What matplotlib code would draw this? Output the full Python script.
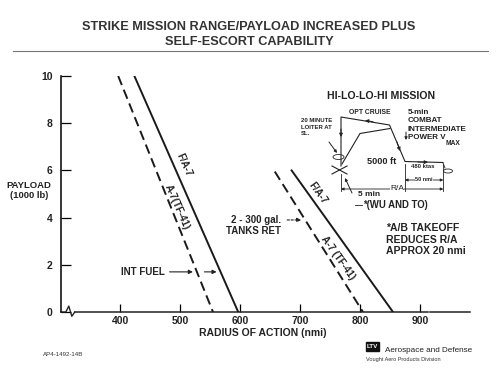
import numpy as np
import matplotlib
matplotlib.use("Agg")
import matplotlib.pyplot as plt
from matplotlib.patches import Ellipse, Rectangle

plt.rcParams['font.family'] = ['Liberation Sans', 'DejaVu Sans']

# ---------------- data ----------------
payload_top_int = [10.0, 10.0]          # payload (1000 lb) at upper end, internal fuel lines
radius_top_int = [424, 397]             # F/A-7, A-7(TF-41)
radius_zero_int = [597, 555]            # radius at zero payload

payload_top_tank = [6.0, 5.95]          # 2-300 gal tanks retained
radius_top_tank = [686, 658]
radius_zero_tank = [855, 805]

series_names = ['F/A-7', 'A-7(TF-41)']
series_names_tank = ['F/A-7', 'A-7 (TF-41)']

x_ticks = [400, 500, 600, 700, 800, 900]
y_ticks = [0, 2, 4, 6, 8, 10]

W, H = 500, 374
fig = plt.figure(figsize=(W / 100, H / 100), dpi=100)
fig.patch.set_facecolor('white')

def P(x, y):
    return (x / W, 1 - y / H)

# axes in pixel placement
left_px, right_px, bottom_px, top_px = 61, 470, 312, 76
ax = fig.add_axes([left_px / W, 1 - bottom_px / H, (right_px - left_px) / W, (bottom_px - top_px) / H])
xmin = 400 - (120 - left_px) / 60 * 100
xmax = 400 + (right_px - 120) / 60 * 100
ax.set_xlim(xmin, xmax)
ax.set_ylim(0, 10)
ax.patch.set_alpha(0)
for s in ['top', 'right', 'bottom']:
    ax.spines[s].set_visible(False)
ax.spines['left'].set_linewidth(1.1)
ax.set_xticks(x_ticks)
ax.set_yticks(y_ticks)
ax.set_xticklabels([str(v) for v in x_ticks], fontsize=7.5, fontweight='bold', color='#222')
ax.set_yticklabels([str(v) for v in y_ticks], fontsize=7.5, fontweight='bold', color='#222')
ax.tick_params(axis='y', direction='in', length=7, width=0.9, pad=6)
ax.tick_params(axis='x', direction='in', length=6, width=0.9, pad=3)

# bottom axis line with break zig-zag
bk = xmin
zz_x = [bk, bk + 8, bk + 13, bk + 18, bk + 23]
zz_y = [0, 0, 0.25, -0.18, 0]
ax.plot(zz_x, zz_y, color='#222', lw=1.0, clip_on=False)
ax.plot([bk + 23, 913], [0, 0], color='#222', lw=1.1, clip_on=False)
ax.plot([917, xmax], [0, 0], color='#222', lw=1.1, clip_on=False)

for i in range(2):
    ls = dict(color='#1a1a1a', lw=1.4)
    l1, = ax.plot([radius_top_int[i], radius_zero_int[i]], [payload_top_int[i], 0], **ls)
    l2, = ax.plot([radius_top_tank[i], radius_zero_tank[i]], [payload_top_tank[i], 0], **ls)
    if i == 1:
        l1.set_dashes((5, 2.6))
        l2.set_dashes((5, 2.6))

fig.canvas.draw()

def angle_of(x0, y0, x1, y1):
    p0 = ax.transData.transform((x0, y0))
    p1 = ax.transData.transform((x1, y1))
    return np.degrees(np.arctan2(p1[1] - p0[1], p1[0] - p0[0]))

def along(i, frac, top, rtop, rzero):
    x = rtop[i] + (rzero[i] - rtop[i]) * frac
    y = top[i] * (1 - frac)
    return x, y

lab = dict(ha='center', va='center', fontsize=7, fontweight='bold', color='#222', rotation_mode='anchor')

# labels on internal fuel lines
a_int = angle_of(radius_top_int[0], payload_top_int[0], radius_zero_int[0], 0)
x, y = along(0, 0.377, payload_top_int, radius_top_int, radius_zero_int)
ax.text(x + 17, y, series_names[0], rotation=a_int, **lab)
x, y = along(1, 0.555, payload_top_int, radius_top_int, radius_zero_int)
ax.text(x + 11, y, series_names[1], rotation=a_int, **lab)

a_tank = angle_of(radius_top_tank[0], payload_top_tank[0], radius_zero_tank[0], 0)
x, y = along(0, 0.16, payload_top_tank, radius_top_tank, radius_zero_tank)
ax.text(x + 17, y, series_names_tank[0], rotation=a_tank, **lab)
x, y = along(1, 0.617, payload_top_tank, radius_top_tank, radius_zero_tank)
ax.text(x + 15, y, series_names_tank[1], rotation=a_tank, **lab)

# INT FUEL annotation
yi = 1.7
def x_at(i, yv, top, rtop, rzero):
    return rzero[i] + (rtop[i] - rzero[i]) * yv / top[i]
xd = x_at(1, yi, payload_top_int, radius_top_int, radius_zero_int)
xs = x_at(0, yi, payload_top_int, radius_top_int, radius_zero_int)
ax.text(438, yi, 'INT FUEL', ha='center', va='center', fontsize=7, fontweight='bold', color='#222')
ax.annotate('', xy=(xd - 2, yi), xytext=(478, yi),
            arrowprops=dict(arrowstyle='-|>', color='#222', lw=0.8, mutation_scale=6))
ax.annotate('', xy=(xs - 2, yi), xytext=(xd + 8, yi),
            arrowprops=dict(arrowstyle='-|>', color='#222', lw=0.8, mutation_scale=6))

# tanks annotation
yt = 3.9
xt = x_at(1, yt, payload_top_tank, radius_top_tank, radius_zero_tank)
ax.text(669, yt, '2 - 300 gal.', ha='right', va='center', fontsize=7, fontweight='bold', color='#222')
ax.text(669, yt - 0.45, 'TANKS RET', ha='right', va='center', fontsize=7, fontweight='bold', color='#222')
ax.annotate('', xy=(xt - 2, yt), xytext=(674, yt),
            arrowprops=dict(arrowstyle='-|>', color='#222', lw=0.8, ls=(0, (2, 1.5)), mutation_scale=6))

# axis labels
fig.text(*P(263, 333), 'RADIUS OF ACTION (nmi)', ha='center', va='center', fontsize=7.5,
         fontweight='bold', color='#222')
fig.text(*P(29, 185), 'PAYLOAD', ha='center', va='center', fontsize=6.8, fontweight='bold', color='#222')
fig.text(*P(29, 196), '(1000 lb)', ha='center', va='center', fontsize=6.8, fontweight='bold', color='#222')

# title
fig.text(*P(249, 27), 'STRIKE MISSION RANGE/PAYLOAD INCREASED PLUS', ha='center', va='center',
         fontsize=9.2, fontweight='bold', color='#333')
fig.text(*P(249, 42), 'SELF-ESCORT CAPABILITY', ha='center', va='center',
         fontsize=9.2, fontweight='bold', color='#333')
fig.add_artist(plt.Line2D([13 / W, 488 / W], [1 - 50.5 / H, 1 - 50.5 / H], color='#777', lw=0.8))

# ---------------- inset mission diagram (pixel coords) ----------------
def pline(xs_, ys_, **kw):
    fx = [v / W for v in xs_]
    fy = [1 - v / H for v in ys_]
    fig.add_artist(plt.Line2D(fx, fy, color='#222', lw=kw.pop('lw', 0.8), **kw))

def parrow(x0, y0, x1, y1, style='-|>', ms=5, lw=0.7):
    fig.add_artist(matplotlib.patches.FancyArrowPatch(P(x0, y0), P(x1, y1), transform=fig.transFigure,
                   arrowstyle=style, mutation_scale=ms, color='#222', lw=lw, shrinkA=0, shrinkB=0))

route_out_x = [341, 341, 389.5, 405, 443]
route_out_y = [166, 117, 125, 161.5, 162.5]
pline(route_out_x, route_out_y)
route_in_x = [342, 360, 390]
route_in_y = [164, 133.5, 128.5]
pline(route_in_x, route_in_y)
parrow(341, 129, 341, 137)
parrow(373, 121.7, 365, 120.5)
parrow(397, 142, 400, 151)
parrow(418, 162, 428, 162.2)
parrow(406, 132, 406, 140, ms=4)
# takeoff X
pline([332, 347], [166, 174])
pline([332, 347], [174, 166])
# loiter ellipse and leader
fig.add_artist(Ellipse(P(338.5, 157), 11 / W, 5 / H, transform=fig.transFigure, fill=False, color='#222', lw=0.6))
parrow(329, 142, 337, 153, ms=4)
# combat ellipse
fig.add_artist(Ellipse(P(448, 171), 9 / W, 4 / H, transform=fig.transFigure, fill=False, color='#222', lw=0.6))
pline([443, 445], [163, 168], lw=0.6)
# dimension lines
pline([341, 341], [174, 191], lw=0.6)
pline([405, 405], [164, 191], lw=0.6)
pline([443.3, 443.3], [164, 191], lw=0.6)
parrow(393, 189, 341, 189, style='-|>', ms=4, lw=0.6)
parrow(393, 189, 443.3, 189, style='-|>', ms=4, lw=0.6)
parrow(424, 180, 405, 180, style='-|>', ms=4, lw=0.6)
parrow(424, 180, 443.3, 180, style='-|>', ms=4, lw=0.6)
fig.text(*P(397, 188.3), 'R/A', ha='center', va='center', fontsize=6, color='#222',
         bbox=dict(facecolor='white', edgecolor='none', pad=0.3))
fig.text(*P(424, 180), '50 nmi', ha='center', va='center', fontsize=4, fontweight='bold', color='#222',
         bbox=dict(facecolor='white', edgecolor='none', pad=0.2))
parrow(352, 193, 345, 178, ms=4)
fig.text(*P(358, 195), '5 min', ha='left', va='center', fontsize=6, fontweight='bold', color='#222')
pline([355, 362], [204.5, 204.5], lw=0.6)
fig.text(*P(363, 204.5), '*(WU AND TO)', ha='left', va='center', fontsize=6.9, fontweight='bold', color='#222')

fig.text(*P(381, 96), 'HI-LO-LO-HI MISSION', ha='center', va='center', fontsize=7.6, fontweight='bold', color='#222')
fig.text(*P(369.5, 113), 'OPT CRUISE', ha='center', va='center', fontsize=4.9, fontweight='bold', color='#222')
for k, t in enumerate(['20 MINUTE', 'LOITER AT', 'SL.']):
    fig.text(*P(301, 121 + 6.3 * k), t, ha='left', va='center', fontsize=4.3, fontweight='bold', color='#222')
for k, t in enumerate(['5-min', 'COMBAT', 'INTERMEDIATE', 'POWER V']):
    fig.text(*P(408, 112 + 8.6 * k), t, ha='left', va='center', fontsize=5.8, fontweight='bold', color='#222')
fig.text(*P(446, 143.5), 'MAX', ha='left', va='center', fontsize=4.8, fontweight='bold', color='#222')
fig.text(*P(382, 161.5), '5000 ft', ha='center', va='center', fontsize=6.6, fontweight='bold', color='#222')
fig.text(*P(423, 166.5), '480 ktas', ha='center', va='center', fontsize=4.2, fontweight='bold', color='#222')

for k, t in enumerate(['*A/B TAKEOFF', 'REDUCES R/A', 'APPROX 20 nmi']):
    fig.text(*P(386, 228 + 11.7 * k), t, ha='left', va='center', fontsize=7.5, fontweight='bold', color='#222')

# footer
fig.text(*P(43, 355), 'AP4-1492-14B', ha='left', va='center', fontsize=4.4, color='#333')
fig.add_artist(Rectangle(P(366, 351), 13 / W, 9 / H, transform=fig.transFigure, color='#111'))
fig.text(*P(372.5, 346.5), 'LTV', ha='center', va='center', fontsize=4.5, fontweight='bold', color='white')
fig.text(*P(385, 350), 'Aerospace and Defense', ha='left', va='center', fontsize=5.9, color='#222')
fig.text(*P(366, 359), 'Vought Aero Products Division', ha='left', va='center', fontsize=4.0, color='#333')

fig.savefig('out.png', dpi=100, facecolor='white')
